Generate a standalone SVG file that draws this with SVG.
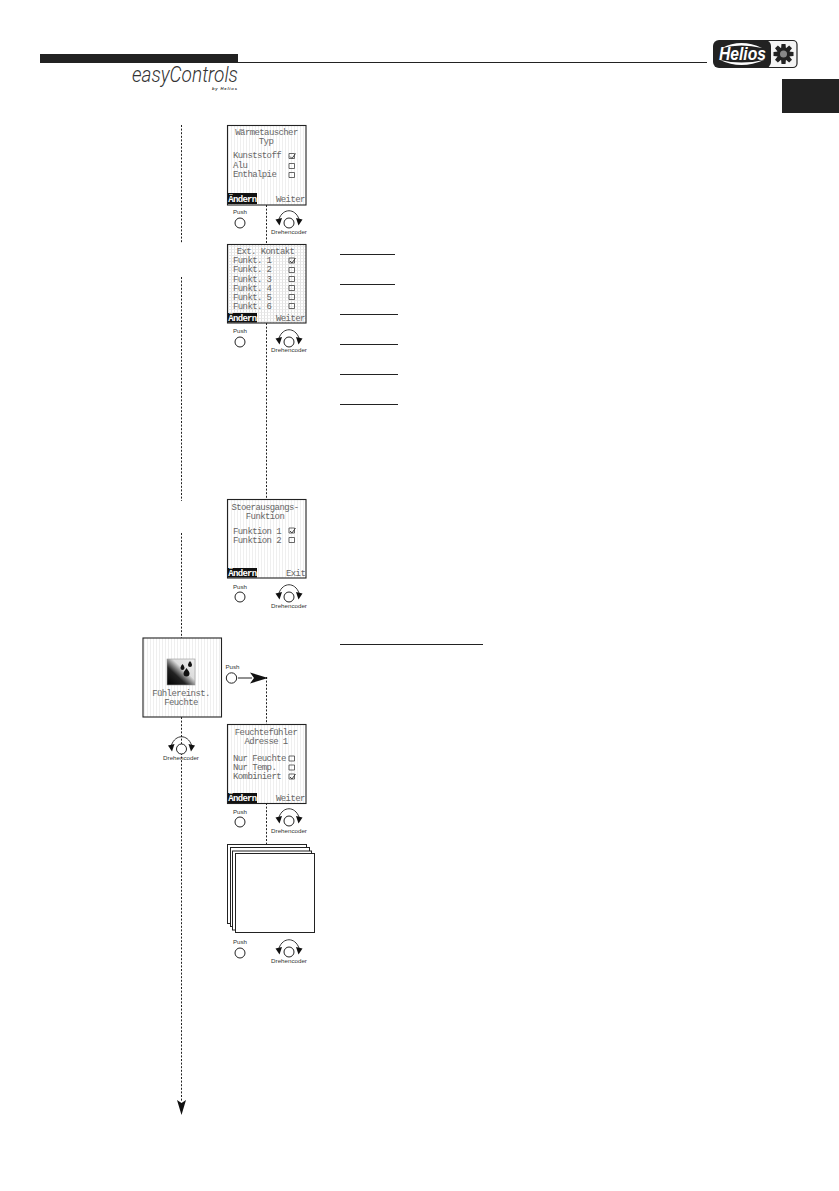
<svg xmlns="http://www.w3.org/2000/svg" width="839" height="1191" viewBox="0 0 839 1191">
<style>
.scr{fill:url(#stripes);stroke:#222;stroke-width:1.1}
.t{font-family:"Liberation Mono",monospace;font-size:9px;letter-spacing:-.6px;fill:#666}
.m{text-anchor:middle}
.sel{font-family:"Liberation Mono",monospace;font-size:9px;letter-spacing:-.7px;fill:#fff;font-weight:bold}
.blk{fill:#111}
.cb{fill:none;stroke:#444;stroke-width:.8}
.ck{fill:none;stroke:#444;stroke-width:1}
.lbl{font-family:"Liberation Sans",sans-serif;font-size:6.200px;fill:#333}
.dial{fill:#fff;stroke:#222;stroke-width:1}
.arc{fill:none;stroke:#222;stroke-width:.9}
.conn{fill:none;stroke:#222;stroke-width:1;stroke-dasharray:2 1.6}
.u{stroke:#222;stroke-width:1}
.sheet{fill:#fff;stroke:#222;stroke-width:1}
</style>
<defs>
<pattern id="stripes" width="3" height="3" patternUnits="userSpaceOnUse"><rect width="3" height="3" fill="#fff"/><rect width="1" height="3" fill="#efefef"/></pattern>
<pattern id="grid" width="3" height="3" patternUnits="userSpaceOnUse"><rect width="3" height="3" fill="#fff"/><rect width="1" height="3" fill="#e2e2e2"/><rect width="3" height=".8" fill="#e8e8e8"/></pattern>
<linearGradient id="hum" x1="0" y1="1" x2="1" y2="0"><stop offset="0" stop-color="#000"/><stop offset=".35" stop-color="#222"/><stop offset=".6" stop-color="#ddd"/><stop offset="1" stop-color="#eee"/></linearGradient>
<g id="enc">
<path class="arc" d="M-10 -4C-6 -15 6 -15 10 -4"/>
<path class="blk" d="M-13.500 -3.500L-7 -5L-9.500 2.500Z"/><path class="blk" d="M13.500 -3.500L7 -5L9.500 2.500Z"/>
<circle class="dial" cx="0" cy="0" r="5"/>
</g>
<path id="box" class="cb" d="M0 0h5.500v5h-5.500z"/>
<path id="chk" class="ck" d="M1 2.500l2 2 3.500-5"/>
<path id="pet" d="M-2.500 -5L-2 -10H2L2.500 -5Z"/>
</defs>

<g id="header">
<rect x="40" y="54" width="198" height="9" fill="#222"/>
<line x1="238" y1="62.500" x2="707" y2="62.500" stroke="#222" stroke-width="1"/>
<rect x="782" y="79" width="57" height="34" fill="#222"/>
<text x="132" y="81.500" font-family="Roboto,'Liberation Sans',sans-serif" font-style="italic" font-weight="300" font-size="22" fill="#333" textLength="106" lengthAdjust="spacingAndGlyphs">easyControls</text>
<text x="212" y="90" font-family="'Liberation Sans',sans-serif" font-style="italic" font-weight="bold" font-size="4.200" fill="#333" textLength="25">by Helios</text>
</g>

<g id="logo">
<rect x="747" y="40.500" width="50" height="27" rx="4" fill="#f4f4f4" stroke="#222" stroke-width="1.200"/>
<rect x="713" y="40" width="58" height="28" rx="6" fill="#222"/>
<path d="M722 48Q741 38 762 48Q741 43 722 48Z" fill="#fff"/>
<path d="M720 60Q741 70 764 60Q741 65 720 60Z" fill="#fff"/>
<text x="719" y="60" font-family="'Liberation Sans',sans-serif" font-style="italic" font-weight="bold" font-size="17.500" fill="#fff" textLength="47" lengthAdjust="spacingAndGlyphs">Helios</text>
<g fill="#222" transform="translate(783.500 54)">
<circle r="6.500"/>
<use href="#pet"/>
<use href="#pet" transform="rotate(45)"/>
<use href="#pet" transform="rotate(90)"/>
<use href="#pet" transform="rotate(135)"/>
<use href="#pet" transform="rotate(180)"/>
<use href="#pet" transform="rotate(225)"/>
<use href="#pet" transform="rotate(270)"/>
<use href="#pet" transform="rotate(315)"/>
<circle r="3.500" fill="#888"/>
</g>
</g>

<g id="connectors">
<path class="conn" d="M181.500 125V243M181.500 277V501M181.500 533V638M181.500 717V1102"/>
<path class="conn" d="M266.500 205V244M266.500 323V499M266.500 677V724M266.500 803V844"/>
<path class="blk" d="M181.500 1115L177 1100L181.500 1103L186 1100Z"/>
<line x1="238" y1="678" x2="252" y2="678" stroke="#222" stroke-width="1"/>
<path class="blk" d="M268 678L250 672.500L254 678L250 683.500Z"/>
<line class="u" x1="340" y1="254.500" x2="395" y2="254.500"/>
<line class="u" x1="340" y1="284.500" x2="395" y2="284.500"/>
<line class="u" x1="340" y1="314.500" x2="398" y2="314.500"/>
<line class="u" x1="340" y1="344.500" x2="398" y2="344.500"/>
<line class="u" x1="340" y1="374.500" x2="398" y2="374.500"/>
<line class="u" x1="340" y1="404.500" x2="398" y2="404.500"/>
<line class="u" x1="340" y1="644.500" x2="483" y2="644.500"/>
</g>

<g id="screen-waermetauscher">
<rect class="scr" x="227.500" y="125.500" width="78.500" height="79.500"/>
<text class="t m" x="266.500" y="135">Wärmetauscher</text>
<text class="t m" x="266" y="143.500">Typ</text>
<text class="t" x="233" y="158">Kunststoff</text>
<text class="t" x="233" y="168">Alu</text>
<text class="t" x="233" y="177">Enthalpie</text>
<use href="#box" x="289" y="153.500"/><use href="#chk" x="289" y="154"/>
<use href="#box" x="289" y="163.500"/><use href="#box" x="289" y="172.500"/>
<rect class="blk" x="228" y="193" width="29" height="11"/>
<text class="sel" x="228.300" y="201.500">Ändern</text>
<text class="t" x="276" y="201.500">Weiter</text>
</g>
<g id="controls-1">
<text class="lbl m" x="240" y="214">Push</text>
<circle class="dial" cx="240" cy="223" r="5"/>
<use href="#enc" x="289" y="223"/>
<text class="lbl m" x="289" y="233.500">Drehencoder</text>
</g>

<g id="screen-ext-kontakt">
<rect x="227.500" y="244.500" width="78.500" height="78.500" fill="url(#grid)" stroke="#222" stroke-width="1.100"/>
<text class="t m" x="265.500" y="254">Ext. Kontakt</text>
<text class="t" x="233" y="263">Funkt. 1</text>
<text class="t" x="233" y="272">Funkt. 2</text>
<text class="t" x="233" y="281.500">Funkt. 3</text>
<text class="t" x="233" y="290.500">Funkt. 4</text>
<text class="t" x="233" y="299.500">Funkt. 5</text>
<text class="t" x="233" y="309">Funkt. 6</text>
<use href="#box" x="289" y="258"/><use href="#chk" x="289" y="258.500"/>
<use href="#box" x="289" y="267.500"/><use href="#box" x="289" y="276.500"/><use href="#box" x="289" y="285.500"/><use href="#box" x="289" y="294.500"/><use href="#box" x="289" y="303.500"/>
<rect class="blk" x="228" y="313" width="29" height="9.500"/>
<text class="sel" x="228.300" y="320.500">Ändern</text>
<text class="t" x="276" y="320.500">Weiter</text>
</g>
<g id="controls-2">
<text class="lbl m" x="240" y="333">Push</text>
<circle class="dial" cx="240" cy="342" r="5"/>
<use href="#enc" x="289" y="342"/>
<text class="lbl m" x="289" y="352">Drehencoder</text>
</g>

<g id="screen-stoerausgang">
<rect class="scr" x="227.500" y="499.500" width="78.500" height="78.500"/>
<text class="t m" x="265" y="510">Stoerausgangs-</text>
<text class="t m" x="265" y="518.500">Funktion</text>
<text class="t" x="233" y="534">Funktion 1</text>
<text class="t" x="233" y="543">Funktion 2</text>
<use href="#box" x="289" y="528"/><use href="#chk" x="289" y="528.500"/>
<use href="#box" x="289" y="537.500"/>
<rect class="blk" x="228" y="568" width="29" height="9.500"/>
<text class="sel" x="228.300" y="575.500">Ändern</text>
<text class="t" x="286" y="575.500">Exit</text>
</g>
<g id="controls-3">
<text class="lbl m" x="240" y="589">Push</text>
<circle class="dial" cx="240" cy="597" r="5"/>
<use href="#enc" x="289" y="597"/>
<text class="lbl m" x="289" y="608">Drehencoder</text>
</g>

<g id="node-fuehlereinst">
<rect class="scr" x="143" y="638" width="78.500" height="79"/>
<rect x="167" y="659" width="28" height="26" fill="url(#hum)" stroke="#999" stroke-width=".6"/>
<path class="blk" d="M186.500 668c2 3 3 4 3 5.500a3 3 0 0 1-6 0c0-1.500 1-2.500 3-5.500z"/>
<path class="blk" d="M182.500 664c1.500 2 2 3 2 4a2 2 0 0 1-4 0c0-1 .5-2 2-4z"/>
<path class="blk" d="M190 661c1.500 2 2 3 2 4a2 2 0 0 1-4 0c0-1 .5-2 2-4z"/>
<text class="t m" x="181" y="696">Fühlereinst.</text>
<text class="t m" x="181" y="704.500">Feuchte</text>
</g>
<g id="controls-4">
<text class="lbl m" x="232.500" y="669">Push</text>
<circle class="dial" cx="231.500" cy="678" r="5.200"/>
<use href="#enc" x="181.500" y="749"/>
<text class="lbl m" x="181" y="760">Drehencoder</text>
</g>

<g id="screen-feuchtefuehler">
<rect class="scr" x="227.500" y="724.500" width="78.500" height="79"/>
<text class="t m" x="266" y="735">Feuchtefühler</text>
<text class="t m" x="266" y="743.500">Adresse 1</text>
<text class="t" x="233" y="761">Nur Feuchte</text>
<text class="t" x="233" y="770">Nur Temp.</text>
<text class="t" x="233" y="779">Kombiniert</text>
<use href="#box" x="289" y="756"/><use href="#box" x="289" y="765"/>
<use href="#box" x="289" y="774"/><use href="#chk" x="289" y="774.500"/>
<rect class="blk" x="228" y="793" width="29" height="10"/>
<text class="sel" x="228.300" y="801">Ändern</text>
<text class="t" x="276" y="801">Weiter</text>
</g>
<g id="controls-5">
<text class="lbl m" x="240" y="813.500">Push</text>
<circle class="dial" cx="240" cy="822" r="5"/>
<use href="#enc" x="289" y="821"/>
<text class="lbl m" x="289" y="832.500">Drehencoder</text>
</g>

<g id="screen-stack">
<rect class="sheet" x="227.500" y="844.500" width="79" height="79"/>
<rect class="sheet" x="230.500" y="847.500" width="79" height="79"/>
<rect class="sheet" x="232.500" y="851" width="79" height="79"/>
<rect class="sheet" x="235.500" y="853.500" width="79" height="79"/>
</g>
<g id="controls-6">
<text class="lbl m" x="240" y="944">Push</text>
<circle class="dial" cx="240" cy="953" r="5"/>
<use href="#enc" x="289" y="952"/>
<text class="lbl m" x="289" y="963">Drehencoder</text>
</g>
</svg>
